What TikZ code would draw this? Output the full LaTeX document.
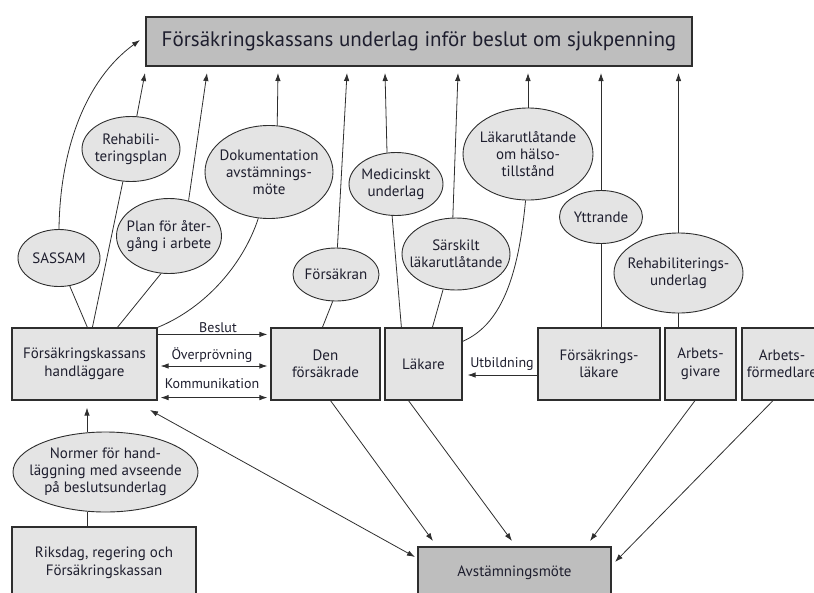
\documentclass[tikz,border=0pt]{standalone}
\usepackage{fontspec}
\setmainfont{PT Sans}
\usetikzlibrary{shapes.geometric,arrows.meta}
\definecolor{lightfill}{HTML}{E4E4E4}
\definecolor{darkfill}{HTML}{BEBEBE}
\definecolor{ink}{HTML}{1E1E2E}
\definecolor{edge}{HTML}{2E2E2E}
\begin{document}
\begin{tikzpicture}[x=1pt,y=-1pt,
  box/.style={draw=edge, line width=1.2pt, fill=lightfill, text=ink, align=center,
    font=\fontsize{15}{17.5}\selectfont, inner sep=0pt},
  dbox/.style={box, fill=darkfill},
  ell/.style={ellipse, draw=edge, line width=0.9pt, fill=lightfill, inner sep=0pt},
  etext/.style={text=ink, align=center, font=\fontsize{15}{17}\selectfont, inner sep=0pt},
  conn/.style={draw=edge, line width=0.8pt},
  arr/.style={conn, -{Latex[length=8pt,width=5.5pt]}},
  darr/.style={conn, {Latex[length=8pt,width=5.5pt]}-{Latex[length=8pt,width=5.5pt]}},
  lab/.style={text=ink, font=\fontsize{14}{16}\selectfont, inner sep=0pt, anchor=base}
]
\useasboundingbox (0,0) rectangle (814,592);
\clip (0,0) rectangle (814,592);

% top and bottom boxes
\node[dbox, minimum width=546pt, minimum height=49pt, font=\fontsize{21}{25}\selectfont] (top) at (419,41.5)
  {Försäkringskassans underlag inför beslut om sjukpenning};
\node[dbox, minimum width=193pt, minimum height=52pt] (avst) at (514.5,573) {Avstämningsmöte};
\node[box, minimum width=184pt, minimum height=72pt] (riks) at (104,563) {Riksdag, regering och\\Försäkringskassan};

% middle row
\node[box, minimum width=145pt, minimum height=72pt] (hand) at (84.5,364) {Försäkringskassans\\handläggare};
\node[box, minimum width=109pt, minimum height=72pt] (fors) at (325.5,364) {Den\\försäkrade};
\node[box, minimum width=77pt, minimum height=72pt] (lak) at (423.5,364) {Läkare};
\node[box, minimum width=122pt, minimum height=72pt] (flak) at (599,364) {Försäkrings-\\läkare};
\node[box, minimum width=71pt, minimum height=72pt] (agiv) at (700.5,364) {Arbets-\\givare};
\node[box, minimum width=80pt, minimum height=72pt] (aform) at (782,364) {Arbets-\\förmedlare};

% ellipses
\node[ell, minimum width=185pt, minimum height=80pt,
  label={[etext]center:{Normer för hand-\\läggning med avseende\\på beslutsunderlag}}] (normer) at (105.5,472) {};
\node[ell, minimum width=82pt, minimum height=57pt, label={[etext]center:SASSAM}] (sassam) at (59,258) {};
\node[ell, minimum width=98pt, minimum height=65pt, label={[etext]center:{Rehabili-\\teringsplan}}] (rplan) at (131,149) {};
\node[ell, minimum width=105pt, minimum height=75pt, label={[etext]center:{Plan för åter-\\gång i arbete}}] (plan) at (169,236) {};
\node[ell, minimum width=128pt, minimum height=93pt, label={[etext]center:{Dokumentation\\avstämnings-\\möte}}] (dok) at (269,172) {};
\node[ell, minimum width=86pt, minimum height=53pt, label={[etext]center:Försäkran}] (forsk) at (336,274.5) {};
\node[ell, minimum width=94pt, minimum height=63pt, label={[etext]center:{Medicinskt\\underlag}}] (med) at (396,184) {};
\node[ell, minimum width=108pt, minimum height=72pt, label={[etext]center:{Särskilt\\läkarutlåtande}}] (sars) at (456,254) {};
\node[ell, minimum width=130pt, minimum height=92pt, label={[etext]center:{Läkarutlåtande\\om hälso-\\tillstånd}}] (lakut) at (528,154) {};
\node[ell, minimum width=83pt, minimum height=53pt, label={[etext]center:Yttrande}] (ytt) at (601,217) {};
\node[ell, minimum width=129pt, minimum height=80pt, label={[etext]center:{Rehabiliterings-\\underlag}}] (rehab) at (678.5,273) {};

% arrow tips below the top box
\coordinate (tA) at (140,40);
\coordinate (tB) at (145,73);
\coordinate (tC) at (207,73);
\coordinate (tD) at (278,73);
\coordinate (tE) at (347,73);
\coordinate (tF) at (385,73);
\coordinate (tG) at (458,73);
\coordinate (tH) at (528,73);
\coordinate (tI) at (601,73);
\coordinate (tJ) at (678.5,73);

% arrow tips at Avstämningsmöte
\coordinate (a1) at (433,541);
\coordinate (a2) at (512,541);
\coordinate (a3) at (590,541);
\coordinate (a4) at (615,562);
\coordinate (a0) at (415,557);
\coordinate (h0) at (150,410);

% upward arrows to the top box
\draw[arr] (sassam.north) .. controls (60,150) and (85,80) .. (tA);
\draw[arr] (rplan.80) -- (tB);
\draw[arr] (plan.61) -- (tC);
\draw[arr] (dok.80) -- (tD);
\draw[arr] (forsk.87) -- (tE);
\draw[arr] (med.106) -- (tF);
\draw[arr] (sars.95) -- (tG);
\draw[arr] (lakut.north) -- (tH);
\draw[arr] (ytt.north) -- (tI);
\draw[arr] (rehab.north) -- (tJ);

% lines from sources to ellipses
\draw[conn] (sassam.-69) -- ([xshift=76pt]hand.north west);
\draw[conn] (rplan.-104) -- ([xshift=81pt]hand.north west);
\draw[conn] (plan.-102) -- ([xshift=106pt]hand.north west);
\draw[conn] (dok.-103) .. controls (243,265) and (205,308) .. (hand.north east);
\draw[conn] (forsk.-97) -- ([xshift=52pt]fors.north west);
\draw[conn] (med.-97) -- ([xshift=17pt]lak.north west);
\draw[conn] (sars.-110) -- ([xshift=48pt]lak.north west);
\draw[conn] (lakut.-93) .. controls (518,280) and (500,325) .. ([yshift=-14pt]lak.north east);
\draw[conn] (ytt.south) -- (ytt.south |- flak.north);
\draw[conn] (rehab.south) -- (rehab.south |- agiv.north);

% Normer
\draw[conn] ([xshift=-17pt]riks.north) -- ([xshift=-17pt]riks.north |- normer.south);
\draw[arr, shorten >=7pt] ([xshift=-18.5pt]normer.north) -- ([xshift=-18.5pt]normer.north |- hand.south);

% between handläggare and den försäkrade
\draw[arr, shorten >=3pt] ([yshift=-7pt]hand.north east) -- ([yshift=-7pt]fors.north west);
\draw[darr, shorten <=3pt, shorten >=3pt] ([yshift=-2pt]hand.east) -- ([yshift=-2pt]fors.west);
\draw[darr, shorten <=3pt, shorten >=3pt] ([yshift=3pt]hand.south east) -- ([yshift=3pt]fors.south west);
\node[lab] (lbeslut) at (218,332) {Beslut};
\node[lab] (lover) at (212,359) {Överprövning};
\node[lab] (lkomm) at (212,388) {Kommunikation};

% Utbildning
\draw[arr, shorten >=5pt] ([yshift=-11pt]flak.west) -- ([yshift=-11pt]lak.east |- flak.west);
\node[lab] (lutb) at (502,367) {Utbildning};

% arrows to Avstämningsmöte
\draw[darr] (h0) -- (a0);
\draw[arr] ([xshift=5pt]fors.south) -- (a1);
\draw[arr] ([xshift=-15pt]lak.south) -- (a2);
\draw[arr] ([xshift=-5.5pt]agiv.south) -- (a3);
\draw[arr] ([xshift=-9pt]aform.south) -- (a4);
\end{tikzpicture}
\end{document}
